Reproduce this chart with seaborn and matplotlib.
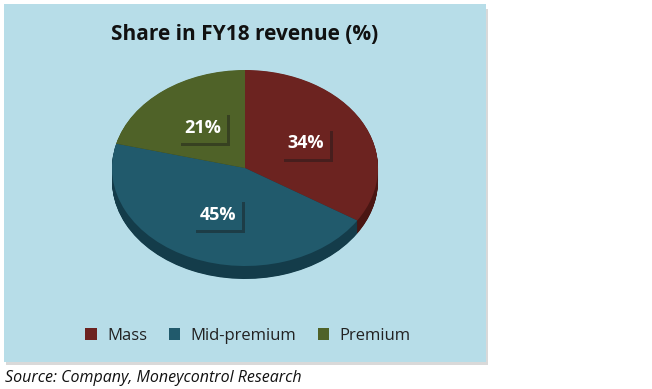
import matplotlib
matplotlib.use("Agg")
import matplotlib.pyplot as plt
import matplotlib.patches as mpatches
import matplotlib.patheffects as pe
import seaborn as sns

categories = ["Mass", "Mid-premium", "Premium"]
shares = [34, 45, 21]
title = "Share in FY18 revenue (%)"
source = "Source: Company, Moneycontrol Research"

top_colors = ["#6c2320", "#215a6c", "#4f6228"]
side_colors = ["#4a1613", "#143c4a", "#34421a"]

sns.set_style("white")
plt.rcParams["font.family"] = ["Open Sans", "DejaVu Sans"]

W, H = 652, 389
fig = plt.figure(figsize=(W / 100, H / 100), dpi=100)
fig.patch.set_facecolor("white")

def fx(px):
    return px / W

def fy(py):
    return 1 - py / H

# background box with slight shadow
fig.patches.append(mpatches.Rectangle((fx(6), fy(365)), fx(482), (360 - 4) / H,
                                      transform=fig.transFigure, facecolor="#d9d9d9",
                                      edgecolor="none", zorder=-2))
fig.patches.append(mpatches.Rectangle((fx(4), fy(362)), fx(482), (362 - 4) / H,
                                      transform=fig.transFigure, facecolor="#b7dde8",
                                      edgecolor="none", zorder=-1))

# pie axes geometry
cx, cy = 245, 168
rx, ry = 133, 98
xl = 1.1
ylo, yhi = -1.25, 1.1
ax_w = 2 * xl * rx
ax_h = (yhi - ylo) * ry
left = cx - xl * rx
top = cy - yhi * ry
ax = fig.add_axes([fx(left), fy(top + ax_h), ax_w / W, ax_h / H])
ax.set_facecolor("none")
ax.patch.set_alpha(0)

depth = 13 / ry
N = 26
for k in range(N, 0, -1):
    off = depth * k / N
    w_side, _ = ax.pie(shares, colors=side_colors, startangle=90, counterclock=False,
                       radius=1, center=(0, -off),
                       wedgeprops=dict(linewidth=0, edgecolor="none"))
    for w in w_side:
        w.set_zorder(1)

wedges, texts, autotexts = ax.pie(
    shares, colors=top_colors, startangle=90, counterclock=False, radius=1,
    center=(0, 0), autopct="%d%%", pctdistance=0.52,
    wedgeprops=dict(linewidth=0, edgecolor="none"),
    textprops=dict(color="white", fontsize=13, fontweight="bold"))
for w in wedges:
    w.set_zorder(3)
for t, c in zip(autotexts, top_colors):
    t.set_zorder(5)
    t.set_bbox(dict(boxstyle="square,pad=0.35", facecolor=c, edgecolor="none"))
    t.get_bbox_patch().set_path_effects([
        pe.SimplePatchShadow(offset=(2, -2), shadow_rgbFace="#1a1a1a", alpha=0.45),
        pe.Normal()])

ax.set_aspect("auto")
ax.set_xlim(-xl, xl)
ax.set_ylim(ylo, yhi)
ax.axis("off")

fig.text(fx(245), fy(34), title, ha="center", va="center", fontsize=15,
         fontweight="bold", color="#111111")

handles = [mpatches.Patch(facecolor=c, edgecolor="none", label=l)
           for c, l in zip(top_colors, categories)]
fig.legend(handles=handles, loc="center", bbox_to_anchor=(fx(248), fy(336)),
           ncol=3, frameon=False, fontsize=12, handlelength=0.7, handleheight=0.7,
           handletextpad=0.6, columnspacing=1.3, labelcolor="#222222")

fig.text(fx(5), fy(378), source, ha="left", va="center", fontsize=11.5,
         fontstyle="italic", color="#111111")

fig.savefig("out.png", dpi=100)
